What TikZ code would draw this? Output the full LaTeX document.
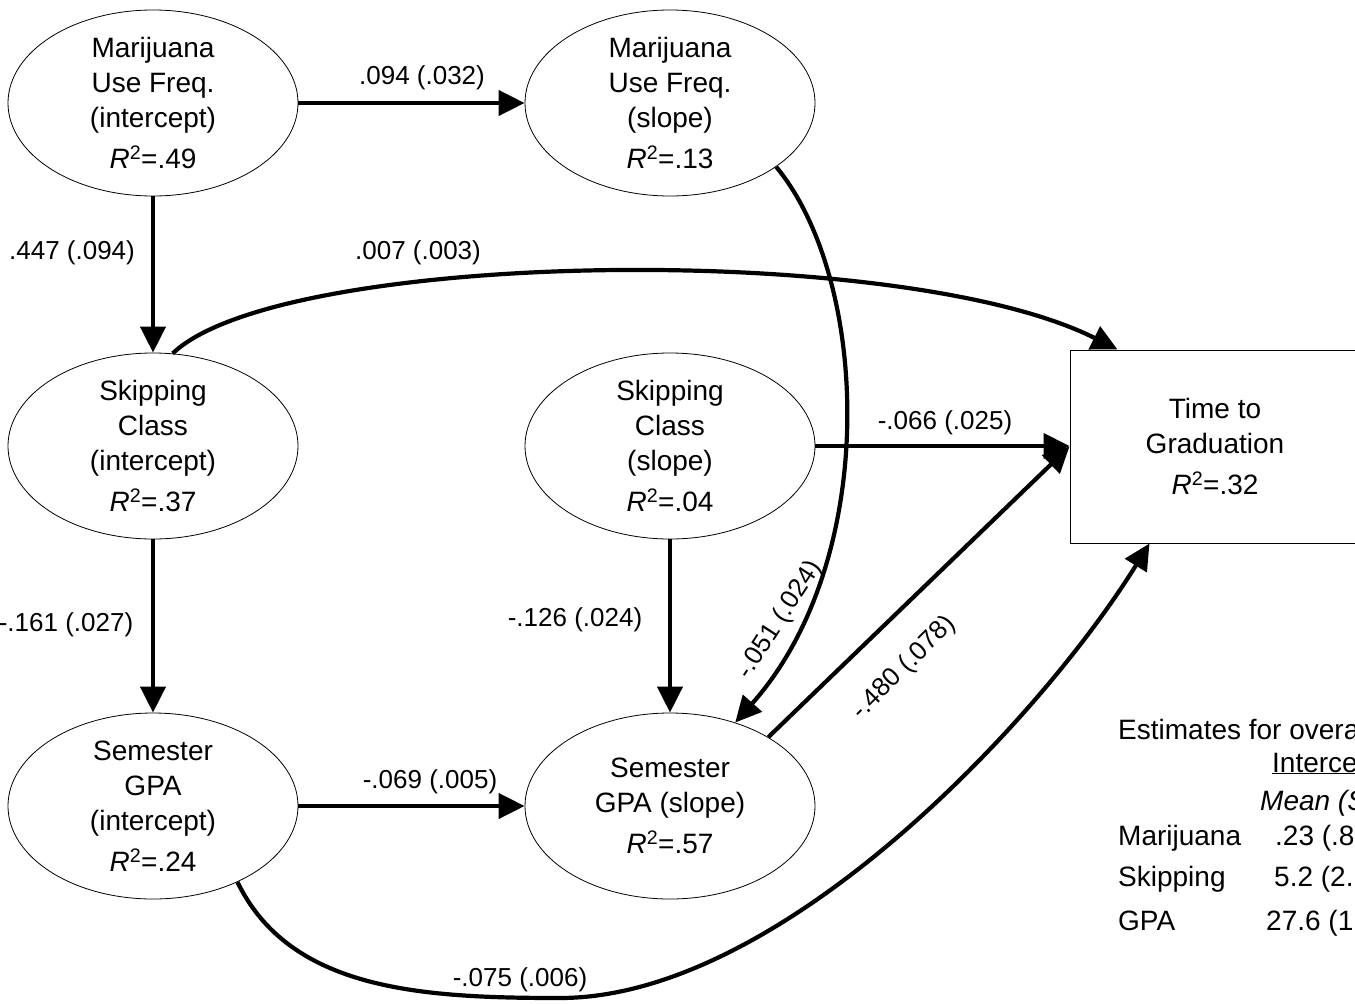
\documentclass[tikz,border=0pt]{standalone}
\usepackage{fontspec}
\setmainfont{Liberation Sans}
\usetikzlibrary{shapes.geometric,arrows.meta}
\begin{document}
\begin{tikzpicture}[x=1pt,y=-1pt,
 lat/.style={ellipse,draw,line width=0.8pt,minimum width=290pt,minimum height=186pt,inner sep=0pt},
 txt/.style={align=center,font=\fontsize{28}{35}\selectfont},
 pth/.style={line width=4.2pt,-{Triangle[length=26pt,width=25pt]}},
 lab/.style={font=\fontsize{26}{30}\selectfont,inner sep=0pt},
 tab/.style={font=\fontsize{28}{34}\selectfont,inner sep=0pt,anchor=base west},
]
\useasboundingbox (0,0) rectangle (1355,1004);
\clip (0,0) rectangle (1355,1004);
\node[lat,label={[txt]center:{Marijuana\\Use Freq.\\(intercept)\\[6pt]\textit{R}\textsuperscript{2}=.49}}] (mji) at (153,103) {};
\node[lat,label={[txt]center:{Marijuana\\Use Freq.\\(slope)\\[6pt]\textit{R}\textsuperscript{2}=.13}}] (mjs) at (670,103) {};
\node[lat,label={[txt]center:{Skipping\\Class\\(intercept)\\[6pt]\textit{R}\textsuperscript{2}=.37}}] (sci) at (153,446) {};
\node[lat,label={[txt]center:{Skipping\\Class\\(slope)\\[6pt]\textit{R}\textsuperscript{2}=.04}}] (scs) at (670,446) {};
\node[lat,label={[txt]center:{Semester\\GPA\\(intercept)\\[6pt]\textit{R}\textsuperscript{2}=.24}}] (gpai) at (153,806) {};
\node[lat,label={[txt]center:{Semester\\GPA (slope)\\[6pt]\textit{R}\textsuperscript{2}=.57}}] (gpas) at (670,806) {};
\node[draw,line width=1pt,minimum width=290pt,minimum height=193pt,inner sep=0pt,txt] (ttg) at (1215,446.5) {Time to\\Graduation\\[6pt]\textit{R}\textsuperscript{2}=.32};

\draw[pth] (mji.east) -- (mjs.west);
\draw[pth] (mji.south) -- (sci.north);
\draw[pth] (sci.south) -- (gpai.north);
\draw[pth] (scs.south) -- (gpas.north);
\draw[pth] (gpai.east) -- (gpas.west);
\draw[pth] (scs.east) -- (scs.east -| ttg.west);
\draw[pth] (gpas.35) -- (ttg.west);
\draw[pth] (sci.78) .. controls (280,250) and (900,240) .. ([xshift=48pt]ttg.north west);
\draw[pth] (mjs.-31) .. controls (870,280) and (880,560) .. (gpas.52);
\draw[pth] (gpai.-42) .. controls (290,990) and (420,998) .. (560,998) .. controls (780,998) and (1040,720) .. ([xshift=80pt]ttg.south west);

\node[lab] (l1) at (422,78) {.094 (.032)};
\node[lab] (l2) at (72,253) {.447 (.094)};
\node[lab] (l3) at (418,253) {.007 (.003)};
\node[lab] (l4) at (66,625) {-.161 (.027)};
\node[lab] (l5) at (575,620) {-.126 (.024)};
\node[lab] (l6) at (945,423) {-.066 (.025)};
\node[lab,rotate=57] (l7) at (780,620) {-.051 (.024)};
\node[lab,rotate=45] (l8) at (904,668) {-.480 (.078)};
\node[lab] (l9) at (430,782) {-.069 (.005)};
\node[lab] (l10) at (520,980) {-.075 (.006)};

\node[tab] (t1) at (1118,739) {Estimates for overa};
\node[tab] (t2) at (1272,772) {\underline{Interce}};
\node[tab] (t3) at (1260,810) {\textit{Mean (S}};
\node[tab] (t4) at (1118,845) {Marijuana};
\node[tab] (t5) at (1275,845) {.23 (.8};
\node[tab] (t6) at (1118,886) {Skipping};
\node[tab] (t7) at (1274,886) {5.2 (2.};
\node[tab] (t8) at (1118,930) {GPA};
\node[tab] (t9) at (1266,930) {27.6 (1};
\end{tikzpicture}
\end{document}
